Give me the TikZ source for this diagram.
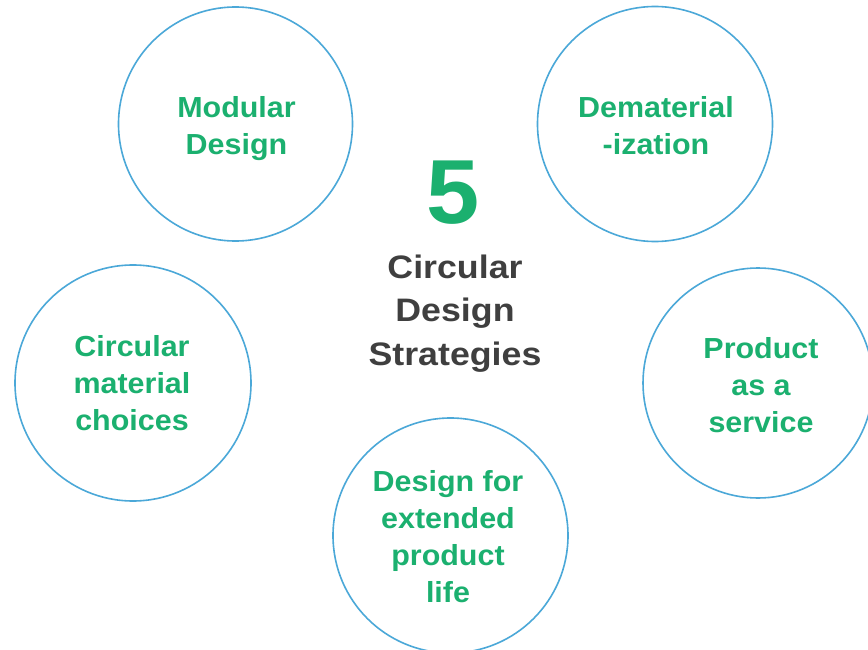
\documentclass[tikz,border=0pt]{standalone}
\usepackage{fontspec}
\newfontfamily\gfont{Liberation Sans}[FakeStretch=1.05]
\newfontfamily\cfont{Liberation Sans}[FakeStretch=1.1]
\definecolor{ringblue}{HTML}{4BA8D8}
\definecolor{leafgreen}{HTML}{1BB06F}
\definecolor{darkgray}{HTML}{3F3F3F}
\tikzset{
  ring/.style={circle, draw=ringblue, line width=1.6pt, inner sep=0pt, outer sep=0pt},
  gtext/.style={anchor=base, align=center, text=leafgreen, font=\gfont\bfseries\fontsize{29}{37}\selectfont, inner sep=0pt},
  ctext/.style={anchor=base, align=center, text=darkgray, font=\cfont\bfseries\fontsize{32.5}{43.5}\selectfont, inner sep=0pt},
  bignum/.style={anchor=base, text=leafgreen, font=\gfont\bfseries\fontsize{91}{91}\selectfont, inner sep=0pt}
}
\begin{document}
\begin{tikzpicture}[x=1pt, y=-1pt]
\useasboundingbox (0,0) rectangle (868,650);
\fill[white] (0,0) rectangle (868,650);
% circles
\node[ring, minimum size=234pt] (cmod) at (235.5,124) {};
\node[ring, minimum size=235pt] (cdem) at (655,124) {};
\node[ring, minimum size=236pt] (cmat) at (133,383) {};
\node[ring, minimum size=230pt] (cser) at (758,383) {};
\node[ring, minimum size=235pt] (clife) at (450.5,535.5) {};
% circle texts (base anchor = baseline of last line)
\node[gtext] (tmod) at (236.5,155) {Modular\\Design};
\node[gtext] (tdem) at (656,155) {Dematerial\\-ization};
\node[gtext] (tmat) at (132,430) {Circular\\material\\choices};
\node[gtext] (tser) at (761,432) {Product\\as a\\service};
\node[gtext] (tlife) at (448,602) {Design for\\extended\\product\\life};
% centre
\node[bignum] (five) at (453,223) {5};
\node[ctext] (title) at (455,365) {Circular\\Design\\Strategies};
\end{tikzpicture}
\end{document}
